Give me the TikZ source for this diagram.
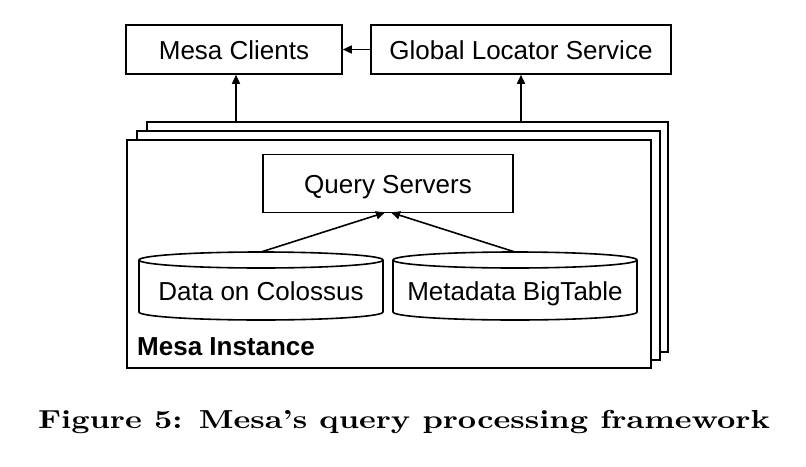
\documentclass[tikz,border=0pt]{standalone}
\usepackage{fontspec}
\newfontfamily\arial{Liberation Sans}
\newfontfamily\capfont{lmroman10-bold.otf}
\usetikzlibrary{arrows.meta}
\begin{document}
\begin{tikzpicture}[x=1pt,y=-1pt,
  ln/.style={line width=1.6pt},
  box/.style={draw,ln,fill=white},
  lbl/.style={font=\arial\fontsize{26}{30}\selectfont,inner sep=0pt},
  arr/.style={ln,-{Triangle[length=9pt,width=8pt]}}]
\useasboundingbox (0,0) rectangle (806,466);
% stacked instances
\draw[box] (147,122) rectangle (668,352);
\draw[box] (137,131) rectangle (660,360);
\draw[box] (127,140) rectangle (651,368);
% top boxes
\node[box,minimum width=216pt,minimum height=49pt,inner sep=0pt] (mc) at (234,49.5) {};
\node[lbl,anchor=base] (mct) at (234,59) {Mesa Clients};
\node[box,minimum width=300pt,minimum height=49pt,inner sep=0pt] (gls) at (521,49.5) {};
\node[lbl,anchor=base] (glst) at (521,59) {Global Locator Service};
\draw[arr] (gls.west) -- (mc.east);
\coordinate (i1) at (236,122);
\coordinate (i2) at (521,122);
\draw[arr] (i1) -- (i1 |- mc.south);
\draw[arr] (i2) -- (i2 |- gls.south);
% query servers
\node[box,minimum width=250pt,minimum height=58pt,inner sep=0pt] (qs) at (388,183.5) {};
\node[lbl,anchor=base] (qst) at (388,193) {Query Servers};
% cylinders
\foreach \cx/\nm/\tx in {261/dc/Data on Colossus, 515/mb/Metadata BigTable}{
  \draw[ln,fill=white] (\cx-122,260) -- (\cx-122,312) arc[start angle=180,end angle=360,x radius=122,y radius=-8] -- (\cx+122,260);
  \draw[ln,fill=white] (\cx,260) ellipse[x radius=122,y radius=8];
  \node[lbl,anchor=base] (\nm) at (\cx,300) {\tx};
  \coordinate (\nm top) at (\cx,252);
}
\draw[arr] (dctop) -- (385,212.5);
\draw[arr] (mbtop) -- (391,212.5);
\node[lbl,font=\arial\bfseries\fontsize{26}{30}\selectfont,anchor=base west] (mi) at (137,355) {Mesa Instance};
% caption
\node[anchor=base,inner sep=0pt,font=\capfont\fontsize{26}{30}\selectfont] (cap) at (404,428) {\scalebox{1.225}[1]{Figure 5: Mesa’s query processing framework}};
\end{tikzpicture}
\end{document}
